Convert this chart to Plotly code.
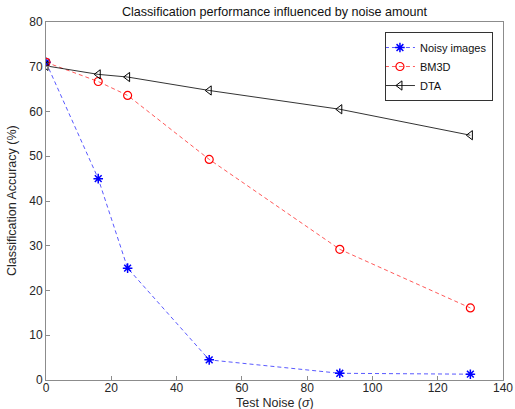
import plotly.graph_objects as go

noise = [0, 16, 25, 50, 90, 130]
noisy_images = [71.0, 45.0, 25.0, 4.5, 1.5, 1.3]
bm3d = [71.0, 66.7, 63.6, 49.3, 29.2, 16.1]
dta = [70.2, 68.3, 67.7, 64.7, 60.5, 54.7]

x_ticks = [0, 20, 40, 60, 80, 100, 120, 140]
y_ticks = [0, 10, 20, 30, 40, 50, 60, 70, 80]

FONT = "Liberation Sans, Arial"

fig = go.Figure()
fig.add_trace(go.Scatter(
    x=noise, y=noisy_images, name="Noisy images", mode="lines+markers",
    line=dict(color="#5a5aff", width=1, dash="4px,3px"),
    marker=dict(symbol="asterisk-open", size=8, color="#0000ff", line=dict(color="#0000ff", width=1.5)),
))
fig.add_trace(go.Scatter(
    x=noise, y=bm3d, name="BM3D", mode="lines+markers",
    line=dict(color="#ff5a5a", width=1, dash="4px,3px"),
    marker=dict(symbol="circle-open", size=8, color="#ff0000", line=dict(color="#ff0000", width=1.2)),
))
fig.add_trace(go.Scatter(
    x=noise, y=dta, name="DTA", mode="lines+markers",
    line=dict(color="#000000", width=0.8),
    marker=dict(symbol="triangle-left-open", size=8, color="#000000", line=dict(color="#000000", width=1)),
))

axis_common = dict(
    showgrid=False, zeroline=False, showline=True, mirror=True, automargin=False,
    linecolor="#8c8c8c", linewidth=1, ticks="inside", ticklen=4,
    tickcolor="#8c8c8c", tickfont=dict(family=FONT, size=12, color="#262626"),
)

fig.update_layout(
    width=515, height=409,
    margin=dict(l=46, r=12, t=22, b=29),
    paper_bgcolor="white", plot_bgcolor="white",
    title=dict(text="Classification performance influenced by noise amount",
               x=0.533, xanchor="center", y=0.971, yanchor="middle",
               font=dict(family=FONT, size=12.6, color="#111111")),
    xaxis=dict(range=[0, 140], tickvals=x_ticks, ticktext=[str(v) for v in x_ticks],
               ticklabelstandoff=-3, **axis_common),
    yaxis=dict(range=[0, 80], tickvals=y_ticks, ticktext=[str(v) for v in y_ticks], **axis_common),
    legend=dict(x=0.978, y=0.972, xanchor="right", yanchor="top",
                bgcolor="white", bordercolor="#333333", borderwidth=1,
                font=dict(family=FONT, size=11, color="#111111"),
                tracegroupgap=0, itemwidth=30, indentation=-6),
    showlegend=True,
    annotations=[
        dict(text="Test Noise (<i>σ</i>)", xref="paper", yref="paper", x=0.5, y=0,
             xanchor="center", yanchor="middle", yshift=-22.5, showarrow=False,
             font=dict(family=FONT, size=12.5, color="#262626")),
        dict(text="Classification Accuracy (%)", xref="paper", yref="paper", x=0, y=0.5,
             xanchor="center", yanchor="middle", xshift=-34, textangle=-90, showarrow=False,
             font=dict(family=FONT, size=12.5, color="#262626")),
    ],
)

fig.write_html("out.html", config={"displayModeBar": False},
               post_script="document.body.style.margin='0';document.body.style.overflow='hidden';")
